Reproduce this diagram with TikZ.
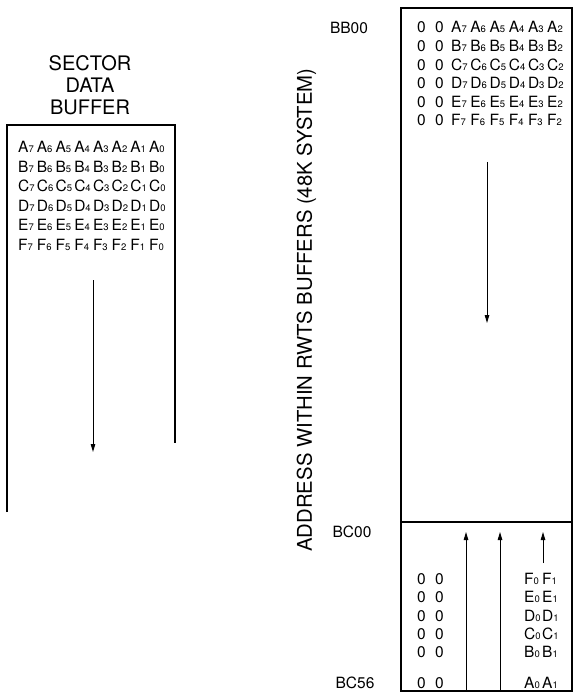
\documentclass[tikz,border=0pt]{standalone}
\usepackage{fontspec}
\setmainfont{TeX Gyre Heros}
\usetikzlibrary{arrows.meta}
\newcommand\bitcell[2]{{\fontsize{15.5}{15.5}\selectfont #1}{\fontsize{9.5}{9.5}\selectfont #2}}
\tikzset{
  cell/.style={inner sep=0pt, anchor=base west},
  zero/.style={inner sep=0pt, anchor=base west, font=\fontsize{15.5}{15.5}\selectfont},
  addr/.style={inner sep=0pt, font=\fontsize{15.5}{15.5}\selectfont},
  title/.style={inner sep=0pt, font=\fontsize{20}{20}\selectfont},
  boxline/.style={line width=1.7pt},
  flow/.style={line width=1pt, -{Triangle[length=8pt,width=4.5pt]}}
}
\begin{document}
\begin{tikzpicture}[x=1pt,y=-1pt]
\useasboundingbox (0,0) rectangle (573,692);
% left: sector data buffer
\node[title] (t1) at (90,63) {SECTOR};
\node[title] (t2) at (90,85) {DATA};
\node[title] (t3) at (90,107) {BUFFER};
\draw[boxline] (7,512) -- (7,125) -- (175,125) -- (175,443);
\foreach \r [count=\i from 0] in {A,B,C,D,E,F}{
  \foreach \b [count=\j from 0] in {7,6,5,4,3,2,1,0}{
    \node[cell] (L\r\b) at ({18+18.7*\j},{152.5+19.6*\i}) {\bitcell{\r}{\b}};
  }
}
\coordinate (la1) at (93,280);
\coordinate (la2) at (93,452);
\draw[flow] (la1) -- (la2);
% vertical label
\node[inner sep=0pt, rotate=90, font=\fontsize{20.3}{20.3}\selectfont] (vlab) at (306.5,310) {ADDRESS WITHIN RWTS BUFFERS (48K SYSTEM)};
% address labels
\node[addr] (bb00) at (349,28) {BB00};
\node[addr] (bc00) at (352,532) {BC00};
\node[addr] (bc56) at (355,683) {BC56};
% right box
\draw[boxline] (401,8) rectangle (572,691);
\draw[boxline] (401,522) -- (572,522);
\foreach \r [count=\i from 0] in {A,B,C,D,E,F}{
  \node[zero] (Z\r a) at (417,{33+18.6*\i}) {0};
  \node[zero] (Z\r b) at (435,{33+18.6*\i}) {0};
  \foreach \b [count=\j from 0] in {7,6,5,4,3,2}{
    \node[cell] (R\r\b) at ({451+19.2*\j},{33+18.6*\i}) {\bitcell{\r}{\b}};
  }
}
\foreach \r/\y in {F/584,E/602,D/621,C/639,B/657,A/688}{
  \node[zero] (W\r a) at (417,\y) {0};
  \node[zero] (W\r b) at (435,\y) {0};
  \node[cell] (W\r0) at (524,\y) {\bitcell{\r}{0}};
  \node[cell] (W\r1) at (542,\y) {\bitcell{\r}{1}};
}
\coordinate (ra1) at (487,162);
\coordinate (ra2) at (487,323);
\draw[flow] (ra1) -- (ra2);
\coordinate (u1s) at (466,691);
\coordinate (u1e) at (466,532);
\coordinate (u2s) at (500,691);
\coordinate (u2e) at (500,532);
\coordinate (u3s) at (543,563);
\coordinate (u3e) at (543,532);
\draw[flow] (u1s) -- (u1e);
\draw[flow] (u2s) -- (u2e);
\draw[flow] (u3s) -- (u3e);
\end{tikzpicture}
\end{document}
